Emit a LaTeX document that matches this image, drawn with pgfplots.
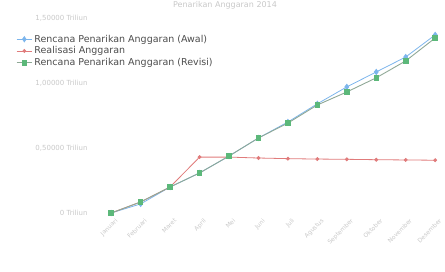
\documentclass[border=0pt]{standalone}
\usepackage{pgfplots}
\pgfplotsset{compat=1.18}
\usepackage{fontspec}
\setmainfont{DejaVu Sans}
\definecolor{cblue}{HTML}{7CB5EC}
\definecolor{cred}{HTML}{E07B7B}
\definecolor{cgreen}{HTML}{5CB87A}
\definecolor{cgline}{HTML}{8FA896}
\definecolor{tickgray}{HTML}{C8C8C8}
\begin{document}
\begin{tikzpicture}
\useasboundingbox (0,0) rectangle (445pt,271pt);
\node[text=tickgray, font=\fontsize{8}{9}\selectfont] at (225pt,266pt) {Penarikan Anggaran 2014};
\begin{axis}[
  at={(95pt,58pt)}, anchor=south west,
  scale only axis, width=349pt, height=195pt,
  xmin=-0.55, xmax=11.3, ymin=0, ymax=1.5,
  axis line style={draw=none},
  tick style={draw=none},
  clip=false,
  xtick={0,...,11},
  xticklabels={Januari,Februari,Maret,April,Mei,Juni,Juli,Agustus,September,Oktober,November,Desember},
  xticklabel style={rotate=45, anchor=north east, text=tickgray, font=\fontsize{6}{6}\selectfont, inner sep=1pt, yshift=-5pt},
  ytick={0,0.5,1,1.5},
  yticklabels={{0 Triliun},{0,50000 Triliun},{1,00000 Triliun},{1,50000 Triliun}},
  yticklabel style={text=tickgray, font=\fontsize{7}{8}\selectfont, xshift=-4pt},
  legend style={at={(-0.235,0.935)}, anchor=north west, draw=none, fill=none,
    font=\fontsize{9.5}{10}\selectfont, text=black!70, row sep=-1pt,
    cells={anchor=west}},
  legend image post style={xscale=0.9},
]
\addplot[cblue, line width=0.8pt, mark=diamond*, mark size=2.6pt] coordinates {
(0,0) (1,0.07) (2,0.2) (3,0.308) (4,0.438) (5,0.577) (6,0.70) (7,0.84) (8,0.97) (9,1.085) (10,1.2) (11,1.37)};
\addlegendentry{Rencana Penarikan Anggaran (Awal)}
\addplot[cred, line width=0.8pt, mark=*, mark size=1.5pt] coordinates {
(0,0) (1,0.085) (2,0.2) (3,0.43) (4,0.43) (5,0.423) (6,0.418) (7,0.415) (8,0.413) (9,0.41) (10,0.408) (11,0.406)};
\addlegendentry{Realisasi Anggaran}
\addplot[cgline, line width=0.9pt, mark=square*, mark size=2.3pt, mark options={fill=cgreen, draw=cgreen}] coordinates {
(0,0) (1,0.085) (2,0.2) (3,0.308) (4,0.438) (5,0.577) (6,0.692) (7,0.831) (8,0.931) (9,1.04) (10,1.17) (11,1.346)};
\addlegendentry{Rencana Penarikan Anggaran (Revisi)}
\end{axis}
\end{tikzpicture}
\end{document}
